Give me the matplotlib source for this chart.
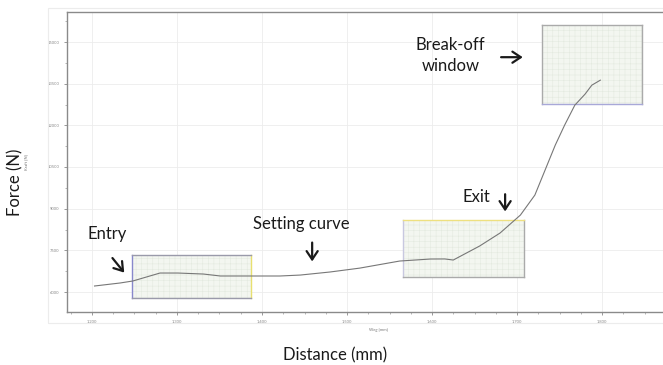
import matplotlib.pyplot as plt
from matplotlib.patches import Rectangle
from matplotlib.ticker import MultipleLocator, FuncFormatter

# ======================
# Data
# ======================
weg = [1203, 1233, 1248, 1280, 1301, 1331, 1351, 1386, 1421, 1445, 1480,
       1515, 1562, 1598, 1615, 1625, 1656, 1680, 1704, 1721, 1733, 1745,
       1756, 1768, 1780, 1788, 1798]
kraft = [6216, 6324, 6396, 6683, 6683, 6647, 6576, 6576, 6576, 6610, 6720,
         6860, 7115, 7187, 7190, 7151, 7655, 8122, 8770, 9489, 10388, 11288,
         12007, 12726, 13122, 13446, 13626]

x_ticks = [1200, 1300, 1400, 1500, 1600, 1700, 1800]
y_ticks = [6000, 7500, 9000, 10500, 12000, 13500, 15000]

# windows: (x0, x1, y0, y1)
entry_win = (1247, 1387, 5784, 7331)
exit_win = (1566, 1708, 6540, 8590)
break_win = (1729, 1847, 12762, 15604)

# ======================
# Figure
# ======================
fig = plt.figure(figsize=(6.63, 3.65), dpi=100)
plt.rcParams['font.family'] = ['Lato', 'DejaVu Sans']
plt.rcParams['hatch.linewidth'] = 0.4

# faint screenshot frame
fig.patches.append(Rectangle((48 / 663, 1 - 323 / 365), 1.0, (323 - 8) / 365,
                             transform=fig.transFigure, fill=False,
                             edgecolor='#ececec', lw=0.8))

ax = fig.add_axes([67 / 663, 53 / 365, 623 / 663, 300 / 365])
ax.set_xlim(1170.6, 1903.5)
ax.set_ylim(5280, 16080)

ax.xaxis.set_minor_locator(MultipleLocator(25))
ax.yaxis.set_minor_locator(MultipleLocator(750))
ax.set_xticks(x_ticks)
ax.set_yticks(y_ticks)
ax.xaxis.set_major_formatter(FuncFormatter(lambda v, p: f'{int(v):,}'))
ax.yaxis.set_major_formatter(FuncFormatter(lambda v, p: f'{int(v)}'))
ax.tick_params(labelsize=3, colors='#888888', length=2, width=0.6)
ax.tick_params(which='minor', length=1.5, width=0.5, colors='#999999')
ax.grid(True, color='#ececec', lw=0.6)
ax.set_axisbelow(True)

for side in ['left', 'bottom', 'top']:
    ax.spines[side].set_color('#8a8a8a')
    ax.spines[side].set_linewidth(1.0)
ax.spines['right'].set_visible(False)

ax.set_xlabel('Weg [mm]', fontsize=3, color='#777777', labelpad=3)
ax.set_ylabel('Kraft [N]', fontsize=3, color='#777777', labelpad=14)


def window(win, edges):
    x0, x1, y0, y1 = win
    ax.add_patch(Rectangle((x0, y0), x1 - x0, y1 - y0, facecolor='#f3f6f0',
                           edgecolor='#e4eae0', hatch='+++', lw=0, zorder=2))
    left, right, bottom, top = edges
    ax.plot([x0, x0], [y0, y1], color=left, lw=1.0, zorder=3)
    ax.plot([x1, x1], [y0, y1], color=right, lw=1.0, zorder=3)
    ax.plot([x0, x1], [y0, y0], color=bottom, lw=1.0, zorder=3)
    ax.plot([x0, x1], [y1, y1], color=top, lw=1.0, zorder=3)


window(entry_win, ('#8888cc', '#e8e070', '#9a9aaa', '#9a9aaa'))
window(exit_win, ('#c8c8e0', '#aaaaaa', '#aaaaaa', '#eee080'))
window(break_win, ('#aaaaaa', '#aaaaaa', '#a8a8d8', '#aaaaaa'))

ax.plot(weg, kraft, color='#777777', lw=0.8, zorder=4)

# ======================
# Annotations
# ======================
txt = dict(fontsize=12, color='#1a1a1a', zorder=5)
arw = dict(arrowstyle='->,head_length=0.6,head_width=0.4', lw=1.6, color='#1a1a1a')

ax.text(1218, 8086, 'Entry', ha='center', va='center', **txt)
ax.annotate('', xy=(1240, 6620), xytext=(1222, 7300), arrowprops=arw)

ax.text(1446, 8446, 'Setting curve', ha='center', va='center', **txt)
ax.annotate('', xy=(1459, 7000), xytext=(1459, 7880), arrowprops=arw)

ax.text(1652, 9417, 'Exit', ha='center', va='center', **txt)
ax.annotate('', xy=(1686, 8800), xytext=(1686, 9620), arrowprops=arw)

ax.text(1622, 14507, 'Break-off\nwindow', ha='center', va='center',
        linespacing=1.35, **txt)
ax.annotate('', xy=(1710, 14453), xytext=(1678, 14453), arrowprops=arw)

fig.text(15 / 663, 1 - 182 / 365, 'Force (N)', rotation=90, ha='center',
         va='center', fontsize=12, color='#1a1a1a')
fig.text(335 / 663, 1 - 355 / 365, 'Distance (mm)', ha='center', va='center',
         fontsize=12, color='#1a1a1a')

fig.savefig('out.png', dpi=100)
